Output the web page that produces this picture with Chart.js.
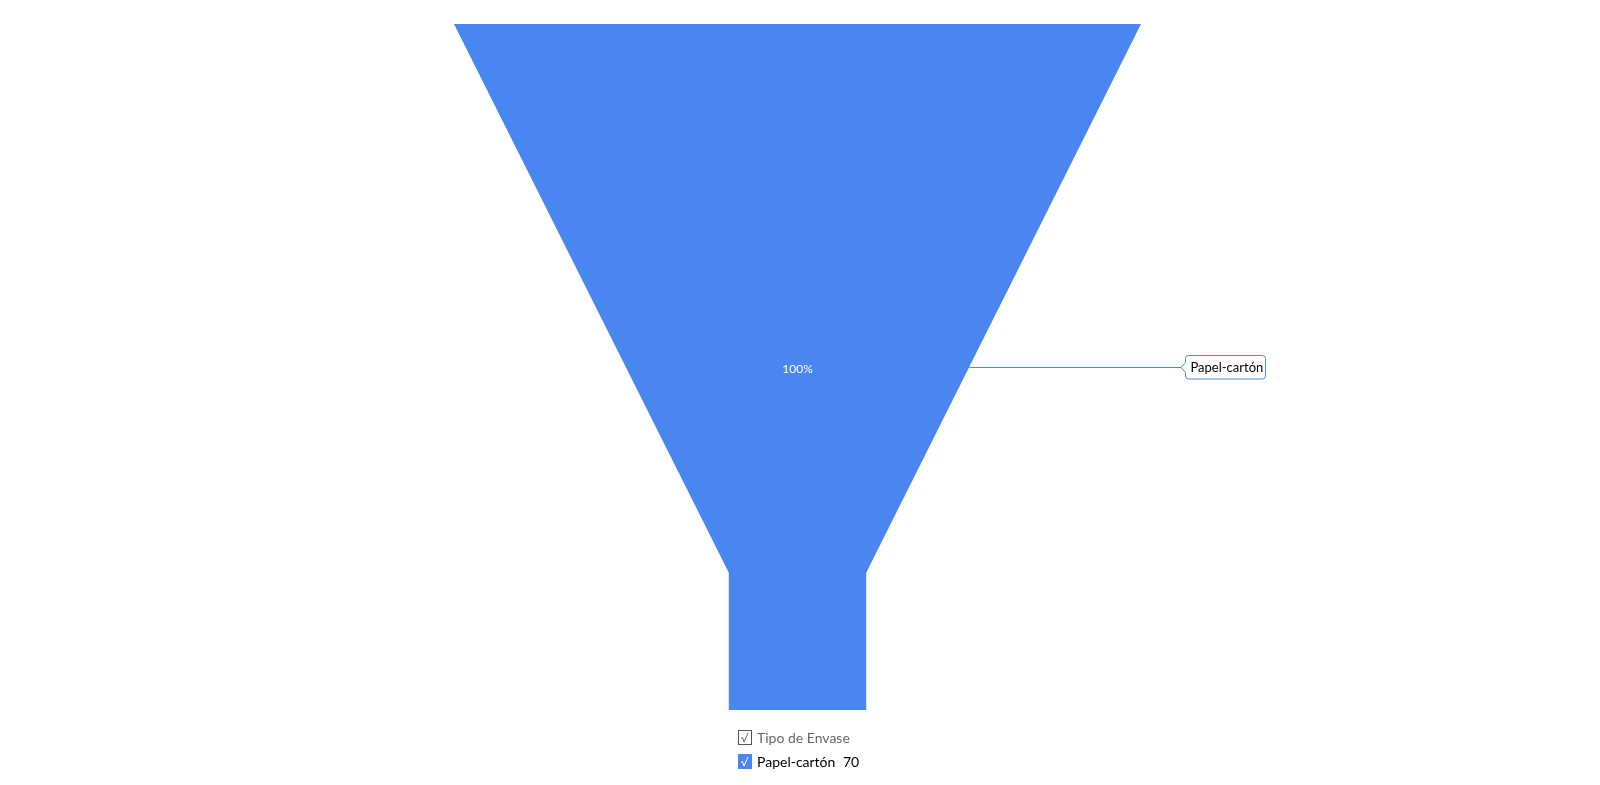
<!DOCTYPE html>
<html>
<head>
<meta charset="utf-8">
<script src="https://cdn.jsdelivr.net/npm/chart.js@4.4.1/dist/chart.umd.min.js"></script>
<style>
html,body{margin:0;padding:0;background:#fff;}
#wrap{position:relative;width:1600px;height:785px;}
canvas{display:block;}
</style>
</head>
<body>
<div id="wrap"><canvas id="c" width="1600" height="785"></canvas></div>
<script>
// ---- data ----
const seriesTitle = 'Tipo de Envase';
const categories = ['Papel-cartón'];
const values = [70];
const neckWidthPct = 20;   // funnel neck width, % of top width
const neckHeightPct = 20;  // funnel neck height, % of total height
const barColor = '#4a86f0';

const total = values.reduce((a, b) => a + b, 0);

// Build funnel polygon (data units: x -50..50, y 0..100 bottom->top)
function funnelPolygon() {
  const topW = 100, neckW = neckWidthPct;
  const neckY = neckHeightPct;
  return [
    {x: -topW / 2, y: 100},
    {x: topW / 2, y: 100},
    {x: neckW / 2, y: neckY},
    {x: neckW / 2, y: 0},
    {x: -neckW / 2, y: 0},
    {x: -neckW / 2, y: neckY}
  ];
}

function drawCheck(ctx, x, y, color) {
  // x,y: top-left of 14x15 box
  ctx.save();
  ctx.strokeStyle = color;
  ctx.lineWidth = 1;
  ctx.beginPath();
  ctx.moveTo(x + 3, y + 8.5);
  ctx.lineTo(x + 4.5, y + 7.5);
  ctx.lineTo(x + 6, y + 12);
  ctx.lineTo(x + 10, y + 3);
  ctx.stroke();
  ctx.restore();
}

const funnelPlugin = {
  id: 'funnel',
  afterDatasetsDraw(chart) {
    const ctx = chart.ctx;
    const xs = chart.scales.x, ys = chart.scales.y;
    const ds = chart.data.datasets[0].data;
    ctx.save();
    ctx.beginPath();
    ds.forEach((p, i) => {
      const px = xs.getPixelForValue(p.x), py = ys.getPixelForValue(p.y);
      if (i === 0) ctx.moveTo(px, py); else ctx.lineTo(px, py);
    });
    ctx.closePath();
    ctx.fillStyle = barColor;
    ctx.fill();

    // percent label at segment centre
    const midY = ys.getPixelForValue(50);
    const cx = xs.getPixelForValue(0);
    ctx.fillStyle = '#ffffff';
    ctx.font = '12px Lato';
    ctx.textAlign = 'center';
    ctx.textBaseline = 'middle';
    const pct = Math.round(values[0] / total * 100) + '%';
    ctx.fillText(pct, cx, midY + 2);

    // callout: right edge at mid height
    const tr = ds[1], nr = ds[2];
    const t = (50 - tr.y) / (nr.y - tr.y);
    const edgeX = xs.getPixelForValue(tr.x + (nr.x - tr.x) * t);
    const boxL = 1185.5, boxT = 355.5, boxW = 80, boxH = 23.5, tipX = 1181;
    const my = Math.round(midY) + 0.5;
    ctx.strokeStyle = barColor;
    ctx.lineWidth = 1;
    ctx.beginPath();
    ctx.moveTo(edgeX, my);
    ctx.lineTo(tipX, my);
    ctx.stroke();
    const r = 3;
    ctx.beginPath();
    ctx.moveTo(boxL + r, boxT);
    ctx.lineTo(boxL + boxW - r, boxT);
    ctx.quadraticCurveTo(boxL + boxW, boxT, boxL + boxW, boxT + r);
    ctx.lineTo(boxL + boxW, boxT + boxH - r);
    ctx.quadraticCurveTo(boxL + boxW, boxT + boxH, boxL + boxW - r, boxT + boxH);
    ctx.lineTo(boxL + r, boxT + boxH);
    ctx.quadraticCurveTo(boxL, boxT + boxH, boxL, boxT + boxH - r);
    ctx.lineTo(boxL, my + 5);
    ctx.lineTo(tipX, my);
    ctx.lineTo(boxL, my - 5);
    ctx.lineTo(boxL, boxT + r);
    ctx.quadraticCurveTo(boxL, boxT, boxL + r, boxT);
    ctx.closePath();
    ctx.fillStyle = '#ffffff';
    ctx.fill();
    ctx.stroke();
    ctx.fillStyle = '#000000';
    ctx.font = '13px Lato';
    ctx.textAlign = 'left';
    ctx.textBaseline = 'middle';
    ctx.fillText(categories[0], boxL + 5, my + 0.5);

    // legend
    ctx.lineWidth = 1;
    ctx.strokeStyle = '#555';
    ctx.strokeRect(738.5, 730.5, 13, 14);
    drawCheck(ctx, 738, 730, '#666');
    ctx.font = '14px Lato';
    ctx.textAlign = 'left';
    ctx.fillStyle = '#666666';
    ctx.fillText(seriesTitle, 757, 738);

    ctx.fillStyle = barColor;
    ctx.fillRect(738, 754, 14, 15);
    drawCheck(ctx, 738, 754, '#ffffff');
    ctx.font = '14px Lato';
    ctx.fillStyle = '#000000';
    ctx.fillText(categories[0], 757, 762);
    ctx.fillText(String(values[0]), 843, 762);
    ctx.restore();
  }
};

new Chart(document.getElementById('c'), {
  type: 'scatter',
  data: {
    datasets: [{
      label: categories[0],
      data: funnelPolygon(),
      pointRadius: 0,
      showLine: false,
      backgroundColor: barColor
    }]
  },
  options: {
    responsive: false,
    animation: false,
    layout: {padding: {left: 454, right: 459, top: 24, bottom: 75}},
    plugins: {legend: {display: false}, tooltip: {enabled: false}},
    scales: {
      x: {type: 'linear', min: -50, max: 50, display: false},
      y: {type: 'linear', min: 0, max: 100, display: false}
    }
  },
  plugins: [funnelPlugin]
});
</script>
</body>
</html>
